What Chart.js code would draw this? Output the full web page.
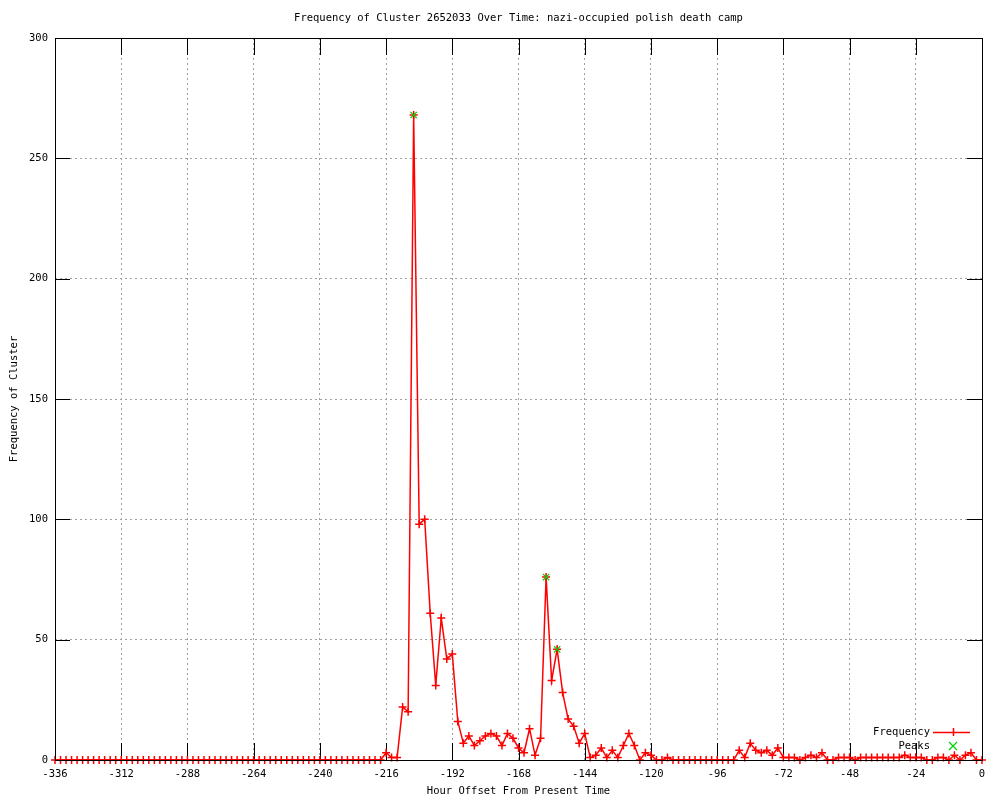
<!DOCTYPE html>
<html>
<head>
<meta charset="utf-8">
<script src="https://cdn.jsdelivr.net/npm/chart.js@4/dist/chart.umd.min.js"></script>
<style>
html, body { margin: 0; padding: 0; background: #fff; }
#wrap { width: 1000px; height: 800px; }
</style>
</head>
<body>
<div id="wrap"><canvas id="clusterChart" width="1000" height="800"></canvas></div>
<script>
// hours run from -336 to 0 in steps of 2
const firstHour = -336
const hourStep = 2
const frequency = [
    0, 0, 0, 0, 0, 0, 0, 0, 0, 0, 0, 0, 0, 0, 0, 0, 0, 0, 0, 0,
    0, 0, 0, 0, 0, 0, 0, 0, 0, 0, 0, 0, 0, 0, 0, 0, 0, 0, 0, 0,
    0, 0, 0, 0, 0, 0, 0, 0, 0, 0, 0, 0, 0, 0, 0, 0, 0, 0, 0, 0,
    3, 1, 1, 22, 20, 268, 98, 100, 61, 31, 59, 42, 44, 16, 7, 10, 6, 8,
    10, 11, 10, 6, 11, 9, 5, 3, 13, 2, 9, 76, 33, 46, 28, 17, 14, 7, 11,
    1, 2, 5, 1, 4, 1, 6, 11, 6, 0, 3, 2, 0, 0, 1, 0, 0, 0, 0, 0, 0,
    0, 0, 0, 0, 0, 0, 4, 1, 7, 4, 3, 4, 2, 5, 1, 1, 1, 0, 1, 2, 1, 3,
    0, 0, 1, 1, 1, 0, 1, 1, 1, 1, 1, 1, 1, 1, 2, 1, 1, 1, 0, 0, 1, 1,
    0, 2, 0, 2, 3, 0, 0
]
const peakHours = [-206, -158, -154]
const peakValues = [268, 76, 46]
const xRange = [-336, 0]
const xStep = 24
const yRange = [0, 300]
const yStep = 50

const red = '#ff0000'
const green = '#00d000'
const font = {family: 'DejaVu Sans Mono', size: 10.5, weight: 'normal'}
const fontCss = '10.5px "DejaVu Sans Mono"'

let freqPoints = frequency.map((v, i) => ({x: firstHour + i * hourStep, y: v}))
let peakPoints = peakHours.map((h, i) => ({x: h, y: peakValues[i]}))

// inward tics on all four sides, gnuplot style
const frameTicks = {
    id: 'frameTicks',
    beforeDatasetsDraw(chart) {
        const c = chart.ctx, a = chart.chartArea
        const sx = chart.scales.x, sy = chart.scales.y
        c.save()
        c.strokeStyle = '#000'
        c.lineWidth = 1
        c.beginPath()
        sx.ticks.forEach(t => {
            let px = Math.round(sx.getPixelForValue(t.value)) + 0.5
            c.moveTo(px, a.bottom); c.lineTo(px, a.bottom - 17)
            c.moveTo(px, a.top); c.lineTo(px, a.top + 17)
        })
        sy.ticks.forEach(t => {
            let py = Math.round(sy.getPixelForValue(t.value)) + 0.5
            c.moveTo(a.left, py); c.lineTo(a.left + 15, py)
            c.moveTo(a.right, py); c.lineTo(a.right - 15, py)
        })
        c.stroke()
        c.restore()
    },
    afterDatasetsDraw(chart) {
        const c = chart.ctx, a = chart.chartArea
        c.save()
        c.strokeStyle = '#000'
        c.lineWidth = 1
        c.strokeRect(Math.round(a.left) + 0.5, Math.round(a.top) + 0.5,
            Math.round(a.right - a.left), Math.round(a.bottom - a.top))
        c.restore()
    }
}

const legendBox = {
    id: 'legendBox',
    afterDraw(chart) {
        const c = chart.ctx, a = chart.chartArea
        const tx = a.right - 52
        const y1 = a.bottom - 28, y2 = a.bottom - 14
        const mx = tx + 23
        c.save()
        c.font = fontCss
        c.fillStyle = '#000'
        c.textAlign = 'right'
        c.textBaseline = 'middle'
        c.fillText('Frequency', tx, y1)
        c.fillText('Peaks', tx, y2)
        c.lineWidth = 1.5
        c.strokeStyle = red
        c.beginPath()
        c.moveTo(tx + 3, y1 + 0.5); c.lineTo(tx + 40, y1 + 0.5)
        c.moveTo(mx + 0.5, y1 - 4); c.lineTo(mx + 0.5, y1 + 4)
        c.stroke()
        c.lineWidth = 1.2
        c.strokeStyle = green
        c.beginPath()
        c.moveTo(mx - 4, y2 - 4); c.lineTo(mx + 4, y2 + 4)
        c.moveTo(mx + 4, y2 - 4); c.lineTo(mx - 4, y2 + 4)
        c.stroke()
        c.restore()
    }
}

let ctx = document.getElementById('clusterChart').getContext('2d')
let clusterChart = new Chart(ctx, {
    type: 'line',
    data: {
        datasets: [{
            label: 'Frequency',
            data: freqPoints,
            order: 1,
            borderColor: red,
            backgroundColor: red,
            borderWidth: 1.5,
            pointStyle: 'cross',
            pointRadius: 4,
            pointBorderWidth: 1.5,
            pointBorderColor: red,
            fill: false,
            tension: 0,
            clip: false
        }, {
            label: 'Peaks',
            data: peakPoints,
            order: 0,
            showLine: false,
            borderColor: green,
            backgroundColor: green,
            pointStyle: 'crossRot',
            pointRadius: 4.5,
            pointBorderWidth: 1.2,
            clip: false
        }]
    },
    options: {
        responsive: false,
        animation: false,
        devicePixelRatio: 1,
        layout: {padding: {right: 18, top: 0, bottom: 0, left: 0}},
        plugins: {
            legend: {display: false},
            tooltip: {enabled: false},
            title: {
                display: true,
                fullSize: false,
                text: 'Frequency of Cluster 2652033 Over Time: nazi-occupied polish death camp',
                color: '#000',
                font: font,
                padding: {top: 12, bottom: 13.4}
            }
        },
        scales: {
            x: {
                type: 'linear',
                min: xRange[0],
                max: xRange[1],
                afterFit: s => { s.height = 40 },
                ticks: {stepSize: xStep, color: '#000', font: font, padding: 8, maxRotation: 0, autoSkip: false},
                grid: {color: '#a0a0a0', drawTicks: false, lineWidth: 1},
                border: {display: false, dash: [2, 3]},
                title: {display: true, text: 'Hour Offset From Present Time', color: '#000', font: font, padding: {top: 0, bottom: 2}}
            },
            y: {
                min: yRange[0],
                max: yRange[1],
                afterFit: s => { s.width = 55 },
                ticks: {stepSize: yStep, color: '#000', font: font, padding: 7},
                grid: {color: '#a0a0a0', drawTicks: false, lineWidth: 1},
                border: {display: false, dash: [2, 3]},
                title: {display: true, text: 'Frequency of Cluster', color: '#000', font: font, padding: {top: 8, bottom: 0}}
            }
        }
    },
    plugins: [frameTicks, legendBox]
})
</script>
</body>
</html>
